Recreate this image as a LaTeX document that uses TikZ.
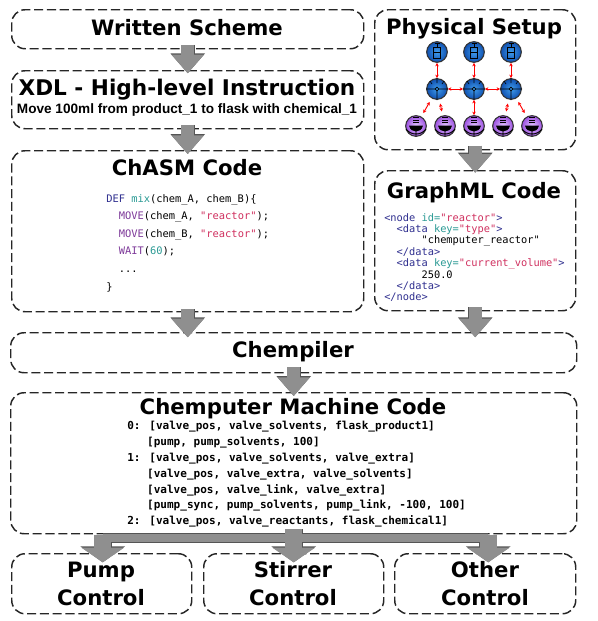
\documentclass[tikz,border=0pt]{standalone}
\usepackage{fontspec}
\setmainfont{DejaVu Sans}
\newfontfamily\subfont{Liberation Sans}
\newfontfamily\codefont{DejaVu Sans Mono}
\usetikzlibrary{arrows.meta}
\definecolor{cnavy}{HTML}{2F2F8F}
\definecolor{cteal}{HTML}{2A9A94}
\definecolor{cred}{HTML}{D0305F}
\definecolor{cpurp}{HTML}{7E3A9A}
\definecolor{arrowgray}{HTML}{8F8F8F}
\definecolor{arrowdark}{HTML}{555555}
\definecolor{pumpin}{HTML}{3F9BEA}
\definecolor{pumpout}{HTML}{1050B0}
\definecolor{flaskin}{HTML}{E4C8FF}
\definecolor{flaskout}{HTML}{9B4FE0}
\tikzset{
 dbox/.style={draw=black!85,line width=1.1pt,dash pattern=on 6.8pt off 2.8pt,rounded corners=10pt,inner sep=0pt},
 head/.style={font=\bfseries\fontsize{15.9}{21}\selectfont,align=center,inner sep=0pt},
 blockarrow/.style={preaction={draw=arrowdark,line width=10.5pt,-{Triangle[width=25pt,length=15pt]}},draw=arrowgray,line width=9.5pt,-{Triangle[width=23.5pt,length=14pt]}},
 forkarrow/.style={preaction={draw=arrowdark,line width=13.5pt,-{Triangle[width=33pt,length=12pt]}},draw=arrowgray,line width=12.5pt,-{Triangle[width=31.5pt,length=11pt]}},
 link/.style={draw=red,line width=.7pt,{Stealth[length=2.6pt,width=2.6pt]}-{Stealth[length=2.6pt,width=2.6pt]}},
 code/.style={font=\codefont\fontsize{7.8}{13.2}\selectfont,align=left,anchor=north west,inner sep=0pt},
 pumpic/.style={circle,minimum size=15.5pt,inner sep=0pt,draw=black!80,line width=.8pt,inner color=pumpin,outer color=pumpout},
 flaskic/.style={circle,minimum size=15.5pt,inner sep=0pt,draw=black!80,line width=.8pt,inner color=flaskin,outer color=flaskout},
}
\newcommand{\boxat}[5]{\node[dbox,anchor=north west,minimum width=#4*.75pt,minimum height=#5*.75pt] (#1) at (#2*.75pt,-#3*.75pt) {};}
\begin{document}
\begin{tikzpicture}[x=.75pt,y=-.75pt]
\useasboundingbox (0,0) rectangle (598,621);
\fill[white] (0,0) rectangle (598,621);
\boxat{written}{11}{9}{352}{39}
\boxat{xdl}{11}{70}{352}{58}
\boxat{chasm}{11}{150}{352}{161}
\boxat{phys}{374}{9}{201}{140}
\boxat{graph}{374}{170}{201}{140}
\boxat{chempiler}{10}{332}{566}{40}
\boxat{machine}{10}{392}{566}{141}
\boxat{pumpb}{11}{553}{180}{60}
\boxat{stirb}{203}{553}{180}{60}
\boxat{otherb}{394}{553}{181}{60}
% arrows
\draw[blockarrow,shorten <=-3.5pt,shorten >=-2.5pt] (written.south) -- (xdl.north);
\draw[blockarrow,shorten <=-3.5pt,shorten >=-3pt] (xdl.south) -- (chasm.north);
\draw[blockarrow,shorten <=-2.5pt,shorten >=-4pt] (chasm.south) -- (chasm.south |- chempiler.north);
\draw[blockarrow,shorten <=-3.5pt,shorten >=-2pt] (phys.south) -- (graph.north);
\draw[blockarrow,shorten <=-3pt,shorten >=-4pt] (graph.south) -- (graph.south |- chempiler.north);
\draw[blockarrow,shorten <=-4.5pt,shorten >=-3pt] (chempiler.south) -- (machine.north);
\coordinate (forkL) at ([xshift=.75pt]pumpb.north |- 0,538);
\coordinate (forkR) at ([xshift=2.25pt]otherb.north |- 0,538);
\draw[arrowdark,line width=6.8pt] (forkL) -- (forkR);
\draw[forkarrow,shorten <=-2.5pt,shorten >=-7pt] (forkL) -- (forkL |- pumpb.north);
\draw[forkarrow,shorten <=-2.5pt,shorten >=-7pt] (forkR) -- (forkR |- otherb.north);
\draw[forkarrow,shorten <=-4pt,shorten >=-7pt] (machine.south) -- (stirb.north);
\draw[arrowgray,line width=5.6pt] (forkL) -- (forkR);
% headings
\node[head] (t1) at (187,28) {Written Scheme};
\node[font=\bfseries\fontsize{16.2}{21}\selectfont,inner sep=0pt] (t2) at (187,90) {XDL - High-level Instruction};
\node[font=\subfont\bfseries\fontsize{10.2}{12}\selectfont,inner sep=0pt] (t2b) at (187,110) {Move 100ml from product\_1 to flask with chemical\_1};
\node[head] (t3) at (187,168) {ChASM Code};
\node[head] (t4) at (474,29) {Physical Setup};
\node[head] (t5) at (474,193) {GraphML Code};
\node[head] (t6) at (293,352) {Chempiler};
\node[head] (t7) at (293,409) {Chemputer Machine Code};
\node[head] (t8) at (101,584) {Pump\\Control};
\node[head] (t9) at (293,584) {Stirrer\\Control};
\node[head] (t10) at (485,584) {Other\\Control};
% chasm code
\node[code] (c1) at (106,194) {\textcolor{cnavy}{DEF} \textcolor{cteal}{mix}(chem\_A, chem\_B)\{\\
\ \ \textcolor{cpurp}{MOVE}(chem\_A, \textcolor{cred}{"reactor"});\\
\ \ \textcolor{cpurp}{MOVE}(chem\_B, \textcolor{cred}{"reactor"});\\
\ \ \textcolor{cpurp}{WAIT}(\textcolor{cteal}{60});\\
\ \ ...\\
\}};
% graphml
\node[code,font=\codefont\fontsize{7.75}{8.55}\selectfont] (g1) at (384,213) {\textcolor{cnavy}{<node} \textcolor{cteal}{id=}\textcolor{cred}{"reactor"}\textcolor{cnavy}{>}\\
\ \ \textcolor{cnavy}{<data} \textcolor{cteal}{key=}\textcolor{cred}{"type"}\textcolor{cnavy}{>}\\
\ \ \ \ \ \ "chemputer\_reactor"\\
\ \ \textcolor{cnavy}{</data>}\\
\ \ \textcolor{cnavy}{<data} \textcolor{cteal}{key=}\textcolor{cred}{"current\_volume"}\textcolor{cnavy}{>}\\
\ \ \ \ \ \ 250.0\\
\ \ \textcolor{cnavy}{</data>}\\
\textcolor{cnavy}{</node>}};
% machine code
\node[code,font=\codefont\bfseries\fontsize{8.27}{11.9}\selectfont] (m1) at (127,421) {0: [valve\_pos, valve\_solvents, flask\_product1]\\
\ \ \ [pump, pump\_solvents, 100]\\
1: [valve\_pos, valve\_solvents, valve\_extra]\\
\ \ \ [valve\_pos, valve\_extra, valve\_solvents]\\
\ \ \ [valve\_pos, valve\_link, valve\_extra]\\
\ \ \ [pump\_sync, pump\_solvents, pump\_link, -100, 100]\\
2: [valve\_pos, valve\_reactants, flask\_chemical1]};
% physical setup
\foreach \n/\x in {a/437,b/474,c/511}{
 \node[pumpic] (p\n) at (\x,52) {};
 \draw[black,line width=.7pt] (\x-3.5,47.5) rectangle (\x+3.5,58);
 \draw[black,line width=.7pt] (\x,43) -- (\x,47.5) (\x-2.5,43.5) -- (\x+2.5,43.5) (\x-3.5,52) -- (\x+3.5,52);
 \node[pumpic] (v\n) at (\x,89) {};
 \draw[black,line width=.5pt] (\x,89) circle (1.8);
 \draw[black,line width=.5pt] (\x-11,89) -- (\x-2,89) (\x+2,89) -- (\x+11,89) (\x,91) -- (\x,100) (\x,78) -- (\x,83) (\x-7,81) -- (\x-5,84) (\x+7,81) -- (\x+5,84);
 \draw[link] (p\n) -- (v\n);
}
\foreach \n/\x in {a/416,b/445,c/474,d/503,e/532}{
 \node[flaskic] (f\n) at (\x,126) {};
 \draw[black,line width=.6pt] (\x-3,117.5) -- (\x+3,117.5) (\x-3,120) -- (\x+3,120) (\x-3,122.5) -- (\x+3,122.5);
 \fill[black] (\x-7,125.5) -- (\x+7,125.5) .. controls (\x+6,130) and (\x+3,131.5) .. (\x,131.5) .. controls (\x-3,131.5) and (\x-6,130) .. (\x-7,125.5) -- cycle;
 \draw[black,line width=.7pt] (\x,131) -- (\x,136.5) (\x-10,129) .. controls (\x-7,133) and (\x-3,134) .. (\x,134) .. controls (\x+3,134) and (\x+7,133) .. (\x+10,129);
}
\draw[link] (va) -- (vb);
\draw[link] (vb) -- (vc);
\draw[link,shorten <=3pt,shorten >=3pt] (va) -- (fa);
\draw[link,shorten <=3pt,shorten >=3pt] (va) -- (fb);
\draw[link] (vb) -- (fc);
\draw[link,shorten <=3pt,shorten >=3pt] (vc) -- (fd);
\draw[link,shorten <=3pt,shorten >=3pt] (vc) -- (fe);
\end{tikzpicture}
\end{document}
